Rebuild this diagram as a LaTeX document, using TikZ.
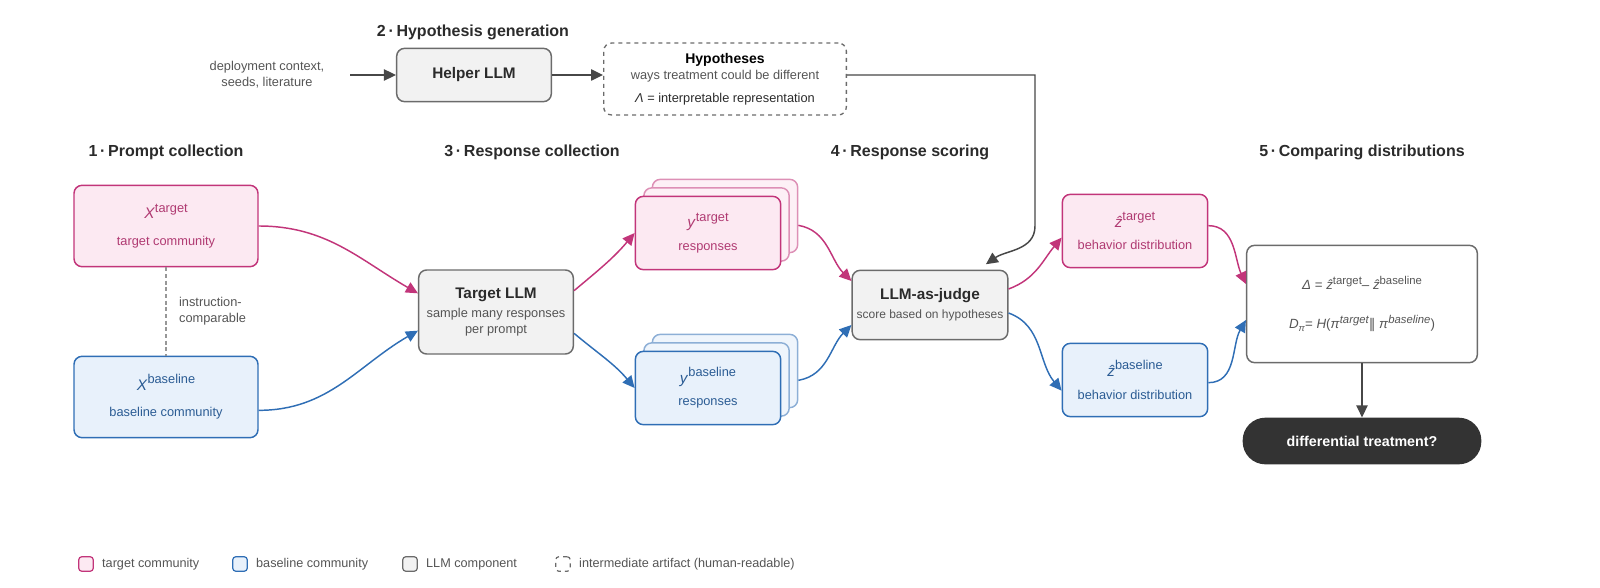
\documentclass[tikz,border=0pt]{standalone}
\usepackage{fontspec}
\setmainfont{Liberation Sans}
\newfontfamily\symfont{DejaVu Sans}
\usetikzlibrary{arrows.meta,positioning}

\definecolor{tgtline}{HTML}{C2357A}
\definecolor{tgtfill}{HTML}{FCE9F2}
\definecolor{tgttext}{HTML}{B03A72}
\definecolor{bslline}{HTML}{2F6EB5}
\definecolor{bslfill}{HTML}{E8F1FB}
\definecolor{bsltext}{HTML}{2B5C94}
\definecolor{llmline}{HTML}{6B6B6B}
\definecolor{llmfill}{HTML}{F2F2F2}
\definecolor{inktext}{HTML}{2B2B2B}
\definecolor{softtext}{HTML}{555555}
\definecolor{darkpill}{HTML}{333333}

\tikzset{
  phase/.style={font=\fontsize{12}{14}\selectfont\bfseries, text=inktext},
  note/.style={font=\fontsize{9.6}{12}\selectfont, text=softtext, align=center},
  tgtbox/.style={draw=tgtline, fill=tgtfill, line width=1.1pt, rounded corners=6pt,
    minimum width=138pt, minimum height=61pt, text=tgttext, align=center,
    font=\fontsize{9.6}{11}\selectfont},
  bslbox/.style={tgtbox, draw=bslline, fill=bslfill, text=bsltext},
  llmbox/.style={draw=llmline, fill=llmfill, line width=1.1pt, rounded corners=6pt,
    minimum width=116pt, align=center, text=inktext},
  artbox/.style={draw=llmline, dashed, line width=1pt, rounded corners=6pt,
    minimum width=182pt, minimum height=54pt, align=center},
  stackbox/.style={minimum width=109pt, minimum height=55pt},
  tgtarrow/.style={draw=tgtline, line width=1.1pt, -{Triangle[length=9pt,width=8.5pt]}},
  bslarrow/.style={draw=bslline, line width=1.1pt, -{Triangle[length=9pt,width=8.5pt]}},
  grayarrow/.style={draw=darkpill!90, line width=1.1pt, -{Triangle[length=9pt,width=8.5pt]}},
  legendbox/.style={line width=0.9pt, rounded corners=2.5pt, minimum size=11pt, inner sep=0pt},
  legendtext/.style={font=\fontsize{9.5}{11}\selectfont, text=softtext, inner sep=0pt}
}

\newcommand{\itsup}[2]{\textit{#1}\raisebox{4pt}{\fontsize{8.5}{10}\selectfont #2}}
\newcommand{\boxsym}[2]{{\fontsize{11.5}{12}\selectfont\textit{#1}\raisebox{5pt}{\fontsize{9.6}{10}\selectfont #2}}}

\begin{document}
\begin{tikzpicture}[x=0.75pt,y=-0.75pt]
  \useasboundingbox (0,0) rectangle (1600,588);

  % phase titles
  \node[phase] (t1) at (166,152) {1\,·\,Prompt collection};
  \node[phase] (t2) at (473,32) {2\,·\,Hypothesis generation};
  \node[phase] (t3) at (532,152) {3\,·\,Response collection};
  \node[phase] (t4) at (910,152) {4\,·\,Response scoring};
  \node[phase] (t5) at (1362,152) {5\,·\,Comparing distributions};

  % hypothesis generation
  \node[note] (ctx) at (267,75) {deployment context,\\seeds, literature};
  \node[llmbox, minimum height=40pt, font=\fontsize{11.5}{13}\selectfont\bfseries] (helper) at (474,75) {Helper LLM};
  \node[artbox] (hyp) at (725,79) {%
    {\fontsize{10.5}{12}\selectfont\bfseries Hypotheses}\\[0pt]
    {\fontsize{9.6}{12}\selectfont\color{softtext} ways treatment could be different}\\[5pt]
    {\fontsize{9.6}{12}\selectfont\color{inktext} \textit{Λ} = interpretable representation}};

  % prompt collection
  \node[tgtbox] (xtgt) at (166,226) {\boxsym{X}{target}\\[9pt]target community};
  \node[bslbox] (xbsl) at (166,397) {\boxsym{X}{baseline}\\[9pt]baseline community};
  \draw[llmline!70, line width=1pt, dash pattern=on 3pt off 2pt] (xtgt) -- (xbsl)
    node[midway, right=6pt, note, align=left] {instruction-\\comparable};

  % response collection
  \node[llmbox, minimum height=63pt] (tllm) at (496,312) {%
    {\fontsize{11.5}{13}\selectfont\bfseries Target LLM}\\[2pt]
    {\fontsize{9.6}{13}\selectfont\color{softtext} sample many responses}\\
    {\fontsize{9.6}{13}\selectfont\color{softtext} per prompt}};

  \foreach \k in {2,1} {
    \node[tgtbox, stackbox, draw=tgtline!55, fill=tgtfill!70] (ytgt\k) at ({708+8.5*\k},{233-8.5*\k}) {};
    \node[bslbox, stackbox, draw=bslline!55, fill=bslfill!70] (ybsl\k) at ({708+8.5*\k},{388-8.5*\k}) {};
  }
  \node[tgtbox, stackbox] (ytgt) at (708,233) {\boxsym{y}{target}\\[6pt]responses};
  \node[bslbox, stackbox] (ybsl) at (708,388) {\boxsym{y}{baseline}\\[6pt]responses};

  % response scoring
  \node[llmbox, minimum height=52pt] (judge) at (930,305) {%
    {\fontsize{11.5}{13}\selectfont\bfseries LLM-as-judge}\\[2pt]
    {\fontsize{9}{11}\selectfont\color{softtext} score based on hypotheses}};

  \node[tgtbox, stackbox] (ztgt) at (1135,231) {\boxsym{ẑ}{target}\\[6pt]behavior distribution};
  \node[bslbox, stackbox] (zbsl) at (1135,380) {\boxsym{ẑ}{baseline}\\[6pt]behavior distribution};

  % comparing distributions
  \node[draw=llmline, line width=1.1pt, rounded corners=6pt, fill=white,
    minimum width=173pt, minimum height=88pt, align=center, text=softtext,
    font=\fontsize{10}{12}\selectfont] (cmp) at (1362,304) {%
    \textit{Δ} = \itsup{ẑ}{target}– \itsup{ẑ}{baseline}\\[17pt]
    \textit{D}\raisebox{-2pt}{\scriptsize\textit{π}}= \textit{H}(\textit{π}\raisebox{4pt}{\fontsize{8.5}{10}\selectfont\itshape target}{\symfont‖} \textit{π}\raisebox{4pt}{\fontsize{8.5}{10}\selectfont\itshape baseline})};
  \node[fill=darkpill, rounded corners=17pt, minimum width=179pt, minimum height=35pt,
    text=white, font=\fontsize{10.7}{12}\selectfont\bfseries] (verdict) at (1362,441) {differential treatment?};

  % connectors
  \draw[grayarrow] ([xshift=16pt]ctx.east) -- (helper.west);
  \draw[grayarrow] (helper.east) -- (helper.east -| hyp.west);
  \draw[grayarrow] ([yshift=3pt]hyp.east) -- (1035,75) -- (1035,226)
    to[out=-90,in=35] ([xshift=-17pt,yshift=4pt]judge.north east);

  \draw[tgtarrow] (xtgt.east) to[out=0,in=150] ([yshift=14pt]tllm.west);
  \draw[bslarrow] ([yshift=-10pt]xbsl.east) to[out=0,in=210] ([yshift=-14pt]tllm.west);
  \draw[tgtarrow] ([yshift=16pt]tllm.east) to[out=40,in=230] (ytgt.west);
  \draw[bslarrow] ([yshift=-16pt]tllm.east) to[out=-40,in=130] (ybsl.west);
  \draw[tgtarrow] ([yshift=-7pt]ytgt2.east) to[out=-10,in=135] ([yshift=18pt]judge.west);
  \draw[bslarrow] ([yshift=-7pt]ybsl2.east) to[out=10,in=225] ([yshift=-15pt]judge.west);
  \draw[tgtarrow] ([yshift=12pt]judge.east) to[out=20,in=230] ([yshift=-5pt]ztgt.west);
  \draw[bslarrow] ([yshift=-6pt]judge.east) to[out=-20,in=130] ([yshift=-8pt]zbsl.west);
  \draw[tgtarrow] ([yshift=4pt]ztgt.east) to[out=0,in=115] ([yshift=15pt]cmp.west);
  \draw[bslarrow] ([yshift=-2pt]zbsl.east) to[out=0,in=240] ([yshift=-12pt]cmp.west);
  \draw[grayarrow] (cmp.south) -- (verdict.north);

  % legend
  \node[legendbox, draw=tgtline, fill=tgtfill] (lg1) at (86,564) {};
  \node[legendtext, right=6pt of lg1] (lt1) {target community};
  \node[legendbox, draw=bslline, fill=bslfill] (lg2) at (240,564) {};
  \node[legendtext, right=6pt of lg2] (lt2) {baseline community};
  \node[legendbox, draw=llmline, fill=llmfill] (lg3) at (410,564) {};
  \node[legendtext, right=6pt of lg3] (lt3) {LLM component};
  \node[legendbox, draw=llmline, dashed] (lg4) at (563,564) {};
  \node[legendtext, right=6pt of lg4] (lt4) {intermediate artifact (human-readable)};
\end{tikzpicture}
\end{document}
